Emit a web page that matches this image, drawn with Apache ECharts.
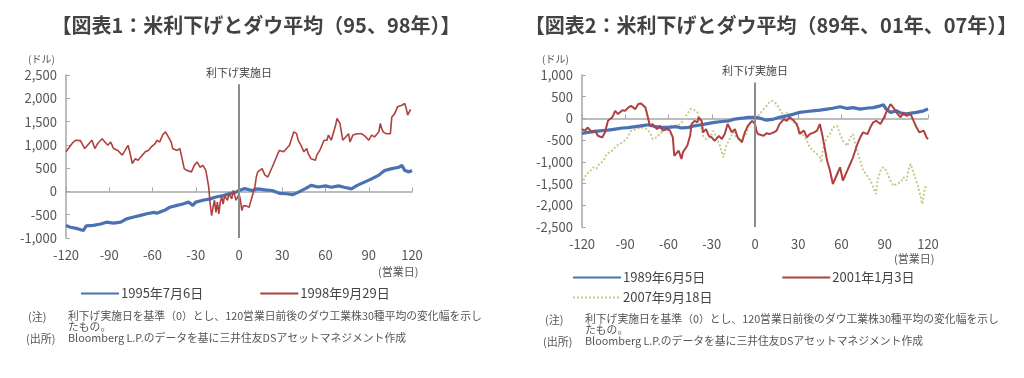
<!DOCTYPE html>
<html><head><meta charset="utf-8">
<script src="https://cdn.jsdelivr.net/npm/echarts@6/dist/echarts.min.js"></script>
<style>html,body{margin:0;padding:0;background:#fff}#c{width:1024px;height:378px}</style>
</head><body><div id="c"></div>
<script>
// ---------- DATA ----------
const xTicks = [-120, -90, -60, -30, 0, 30, 60, 90, 120];
const yTicksLeft = [-1000, -500, 0, 500, 1000, 1500, 2000, 2500];
const yTicksRight = [-2500, -2000, -1500, -1000, -500, 0, 500, 1000];

// Chart 1: 1995-07-06 (blue)
const days1995 = [-120,-117,-112,-108,-106,-101,-96,-92,-87,-82,-78,-73,-69,-64,-59,-57,-52,-48,-43,-39,-35,-32,-30,-25,-20,-16,-11,-7,-2,0,4,9,13,18,23,28,33,37,41,46,50,55,60,64,69,73,78,82,87,92,97,101,106,111,113,115,118,120];
const vals1995 = [-730,-770,-800,-840,-740,-730,-700,-660,-680,-660,-590,-550,-520,-480,-450,-470,-410,-340,-300,-270,-230,-300,-230,-190,-160,-120,-90,-50,-15,20,60,20,55,35,20,-40,-50,-70,-20,60,130,95,120,90,120,90,55,130,200,270,350,450,490,520,560,450,420,450];

// Chart 1: 1998-09-29 (red)
const days1998 = [-120,-115,-113,-110,-107,-102,-100,-98,-95,-93,-91,-89,-87,-84,-81,-79,-77,-76,-74,-72,-70,-67,-65,-63,-61,-58,-57,-55,-53,-51,-49,-47,-46,-43,-41,-40,-38,-36,-35,-33,-31,-29,-27,-25,-23,-21,-20,-19,-18,-17,-16,-15,-14,-13,-12,-11,-10,-8,-7,-5,-4,-2,-1,0,1,2,3,4,5,7,8,9,10,11,12,13,16,18,20,23,26,28,31,33,35,38,40,41,43,45,47,48,50,53,54,56,59,61,62,64,67,68,70,72,74,76,77,79,82,83,85,86,88,90,92,94,97,98,99,100,102,105,106,108,110,113,115,116,117,118,119,120];
const vals1998 = [850,1060,1100,1090,920,1100,920,1030,1130,1060,990,1060,920,880,780,880,990,880,600,700,670,780,850,880,950,1030,1100,1060,1210,1280,1170,1060,920,880,920,780,490,450,490,420,560,630,520,560,450,90,-270,-520,-340,-190,-450,-230,-480,-230,-120,-270,-90,-190,-50,-160,20,-190,-230,-50,-190,-410,-310,-340,-310,-340,-230,-120,-90,90,310,420,490,350,310,520,740,880,850,920,990,1280,1240,1100,990,850,920,810,700,670,780,880,1100,1100,1210,1100,1420,1570,1460,1100,1170,1240,1060,1210,1240,1280,1240,1280,1170,1100,1210,1170,1280,1460,1350,1280,1240,1240,1600,1670,1820,1850,1890,1780,1640,1640,1760];

// Chart 2: 1989-06-05 (blue)
const days1989 = [-120,-116,-111,-106,-102,-97,-92,-88,-83,-79,-74,-69,-65,-60,-55,-51,-46,-42,-37,-32,-28,-23,-18,-14,-9,-5,0,3,8,13,17,22,27,31,36,40,45,50,54,59,64,68,73,77,82,87,89,91,94,98,103,107,112,117,120];
const vals1989 = [-345,-320,-300,-280,-270,-245,-220,-210,-190,-170,-145,-190,-205,-205,-190,-220,-205,-170,-145,-115,-90,-70,-55,-15,5,25,25,10,-40,-15,25,60,100,140,160,175,190,215,235,270,230,250,215,235,250,290,315,215,140,175,100,115,140,175,215];

// Chart 2: 2001-01-03 (red)
const days2001 = [-120,-118,-116,-113,-111,-109,-106,-104,-102,-99,-97,-95,-92,-90,-88,-86,-83,-81,-79,-76,-74,-73,-71,-68,-66,-64,-61,-59,-57,-56,-53,-51,-50,-47,-45,-44,-42,-40,-39,-37,-36,-34,-32,-30,-28,-25,-23,-21,-19,-16,-14,-12,-9,-7,-5,-2,0,1,2,6,8,10,13,15,17,20,22,24,27,29,31,34,36,38,41,43,45,47,50,52,54,57,59,61,64,66,68,71,73,75,78,80,82,84,87,89,91,94,96,98,101,103,105,108,110,112,114,117,119,120];
const vals2001 = [-245,-280,-210,-320,-280,-400,-440,-320,-55,25,175,100,190,175,250,290,215,330,345,250,-15,-170,-130,-245,-170,-280,-245,-280,-435,-860,-740,-935,-780,-630,-400,-130,-55,-90,25,-55,-320,-245,-400,-435,-515,-400,-475,-360,-130,-320,-245,-435,-550,-320,-170,-55,-130,-280,-360,-400,-340,-360,-320,-280,-130,-15,-55,25,-55,-130,-360,-280,-435,-360,-320,-280,-130,-435,-970,-1200,-1510,-1280,-1125,-1430,-1200,-1050,-895,-590,-435,-320,-360,-205,-90,-55,-130,-15,140,330,250,140,25,140,60,100,-55,-205,-320,-280,-435,-475];

// Chart 2: 2007-09-18 (dotted)
const days2007 = [-119,-117,-114,-112,-110,-108,-105,-103,-99,-96,-92,-89,-86,-82,-79,-75,-73,-71,-68,-66,-64,-61,-59,-57,-54,-52,-50,-47,-45,-43,-40,-38,-36,-34,-31,-29,-27,-24,-22,-20,-17,-15,-13,-10,-8,-6,-4,-1,2,6,8,10,12,15,17,20,22,24,27,29,31,33,36,38,40,43,45,46,47,50,52,54,57,59,61,64,66,68,70,73,75,77,80,82,84,85,87,89,91,94,96,98,101,103,105,107,108,111,113,115,116,118,120];
const vals2007 = [-1430,-1280,-1200,-1125,-1160,-1050,-970,-820,-740,-630,-550,-475,-285,-245,-205,-245,-320,-475,-435,-360,-285,-205,-170,-170,-170,-130,-55,100,215,215,140,-130,-400,-475,-435,-285,-400,-665,-895,-630,-435,-320,-435,-515,-400,-360,-130,25,60,215,290,370,405,330,215,60,140,25,-90,-170,-245,-360,-515,-665,-740,-820,-895,-1010,-700,-435,-360,-205,-170,-360,-515,-630,-435,-360,-665,-970,-1200,-1280,-1430,-1585,-1740,-1430,-1200,-1125,-1200,-1430,-1550,-1510,-1470,-1355,-1430,-1125,-1050,-1355,-1550,-1815,-1970,-1585,-1550];

// ---------- CHART ----------
const FONT = '"Noto Sans CJK JP", "Noto Sans", sans-serif';
const TXT = '#555';
const AX = '#a6a6a6';
const BLUE = '#4a72b2';
const RED = '#b0403f';
const DOT = '#c6ca8a';
const zip = (a, b) => a.map((d, i) => [d, b[i]]);
const fmt = v => v.toLocaleString('en-US');

function xAxes(grid, labelMargin) {
  return [
    { gridIndex: grid, type: 'value', min: xTicks[0], max: xTicks[xTicks.length-1], interval: 30,
      position: 'bottom', axisLine: { show: false, onZero: false }, axisTick: { show: false },
      splitLine: { show: false },
      axisLabel: { color: TXT, fontSize: 13, fontFamily: FONT, margin: labelMargin,
        customValues: xTicks } },
    { gridIndex: grid, type: 'value', min: xTicks[0], max: xTicks[xTicks.length-1], interval: 30,
      position: 'bottom', axisLine: { show: true, onZero: true, lineStyle: { color: AX, width: 1.5 } },
      axisTick: { show: true, inside: true, length: 4, lineStyle: { color: AX } },
      splitLine: { show: false }, axisLabel: { show: false } }
  ];
}
function yAxis(grid, ticks) {
  return { gridIndex: grid, type: 'value', min: ticks[0], max: ticks[ticks.length-1], interval: 500,
    axisLine: { show: true, onZero: false, lineStyle: { color: AX, width: 1.5 } },
    axisTick: { show: true, inside: true, length: 4, lineStyle: { color: AX } },
    splitLine: { show: false },
    axisLabel: { color: TXT, fontSize: 13, fontFamily: FONT, margin: 9, formatter: fmt, customValues: ticks } };
}
function vline(top, bottom) {
  return { symbol: 'none', silent: true, animation: false,
    lineStyle: { color: '#8c8c8c', width: 2, type: 'solid' },
    label: { show: true, position: 'end', formatter: '利下げ実施日', color: '#444', fontSize: 11, fontFamily: FONT, distance: 6 },
    emphasis: { disabled: true },
    data: [[{ coord: [0, bottom] }, { coord: [0, top] }]] };
}
const legendBase = {
  itemHeight: 14,
  itemStyle: { opacity: 0 },
  textStyle: { fontSize: 13, color: '#444', fontFamily: FONT, padding: [0,0,0,-3] }
};

const chart = echarts.init(document.getElementById('c'), null, { renderer: 'canvas' });
chart.setOption({
  animation: false,
  backgroundColor: '#fff',
  textStyle: { fontFamily: FONT },
  title: [
    { text: '【図表1：米利下げとダウ平均（95、98年）】', left: 251, top: 10, textAlign: 'center',
      textStyle: { fontSize: 20, fontWeight: 'bold', color: '#434343', fontFamily: FONT } },
    { text: '【図表2：米利下げとダウ平均（89年、01年、07年）】', left: 766, top: 10, textAlign: 'center',
      textStyle: { fontSize: 20, fontWeight: 'bold', color: '#434343', fontFamily: FONT } }
  ],
  grid: [
    { left: 66, top: 75, width: 346, height: 163 },
    { left: 582, top: 75, width: 346, height: 152 }
  ],
  xAxis: [...xAxes(0, 11), ...xAxes(1, 11)],
  yAxis: [yAxis(0, yTicksLeft), yAxis(1, yTicksRight)],
  legend: [
    Object.assign({ left: 75, top: 282, itemWidth: 38, itemGap: 56, data: ['1995年7月6日', '1998年9月29日'] }, legendBase),
    Object.assign({ left: 567, top: 266, itemWidth: 48, itemGap: 76, data: ['1989年6月5日', '2001年1月3日'] }, legendBase),
    Object.assign({ left: 567, top: 286, itemWidth: 48, data: ['2007年9月18日'] }, legendBase)
  ],
  series: [
    { name: '1995年7月6日', type: 'line', xAxisIndex: 0, yAxisIndex: 0, symbol: 'none',
      lineStyle: { color: BLUE, width: 3.2 }, itemStyle: { color: BLUE }, data: zip(days1995, vals1995), z: 3,
      markLine: vline(2300, -1000) },
    { name: '1998年9月29日', type: 'line', xAxisIndex: 0, yAxisIndex: 0, symbol: 'none',
      lineStyle: { color: RED, width: 1.6 }, itemStyle: { color: RED }, data: zip(days1998, vals1998), z: 4 },
    { name: '1989年6月5日', type: 'line', xAxisIndex: 2, yAxisIndex: 1, symbol: 'none',
      lineStyle: { color: BLUE, width: 3.2 }, itemStyle: { color: BLUE }, data: zip(days1989, vals1989), z: 3,
      markLine: vline(830, -2500) },
    { name: '2001年1月3日', type: 'line', xAxisIndex: 2, yAxisIndex: 1, symbol: 'none',
      lineStyle: { color: RED, width: 2 }, itemStyle: { color: RED }, data: zip(days2001, vals2001), z: 4 },
    { name: '2007年9月18日', type: 'line', xAxisIndex: 2, yAxisIndex: 1, symbol: 'none',
      lineStyle: { color: DOT, width: 2, type: 'dotted' }, itemStyle: { color: DOT }, data: zip(days2007, vals2007), z: 2 }
  ],
  graphic: [
    { type: 'text', left: 28, top: 54, style: { text: '(ドル)', fill: TXT, font: '10px ' + FONT } },
    { type: 'text', left: 378, top: 266, style: { text: '(営業日)', fill: TXT, font: '11px ' + FONT } },
    { type: 'text', left: 542, top: 54, style: { text: '(ドル)', fill: TXT, font: '10px ' + FONT } },
    { type: 'text', left: 894, top: 253, style: { text: '(営業日)', fill: TXT, font: '11px ' + FONT } },
    { type: 'text', left: 28, top: 311, style: { text: '(注)', fill: TXT, font: '11px ' + FONT } },
    { type: 'text', left: 68, top: 311, style: { text: '利下げ実施日を基準（0）とし、120営業日前後のダウ工業株30種平均の変化幅を示し', fill: TXT, font: '10.8px ' + FONT } },
    { type: 'text', left: 68, top: 322, style: { text: 'たもの。', fill: TXT, font: '10.8px ' + FONT } },
    { type: 'text', left: 26, top: 333, style: { text: '(出所)', fill: TXT, font: '11px ' + FONT } },
    { type: 'text', left: 68, top: 333, style: { text: 'Bloomberg L.P.のデータを基に三井住友DSアセットマネジメント作成', fill: TXT, font: '10.8px ' + FONT } },
    { type: 'text', left: 545, top: 314, style: { text: '(注)', fill: TXT, font: '11px ' + FONT } },
    { type: 'text', left: 585, top: 314, style: { text: '利下げ実施日を基準（0）とし、120営業日前後のダウ工業株30種平均の変化幅を示し', fill: TXT, font: '10.8px ' + FONT } },
    { type: 'text', left: 585, top: 325, style: { text: 'たもの。', fill: TXT, font: '10.8px ' + FONT } },
    { type: 'text', left: 543, top: 336, style: { text: '(出所)', fill: TXT, font: '11px ' + FONT } },
    { type: 'text', left: 585, top: 336, style: { text: 'Bloomberg L.P.のデータを基に三井住友DSアセットマネジメント作成', fill: TXT, font: '10.8px ' + FONT } }
  ]
});
</script></body></html>
